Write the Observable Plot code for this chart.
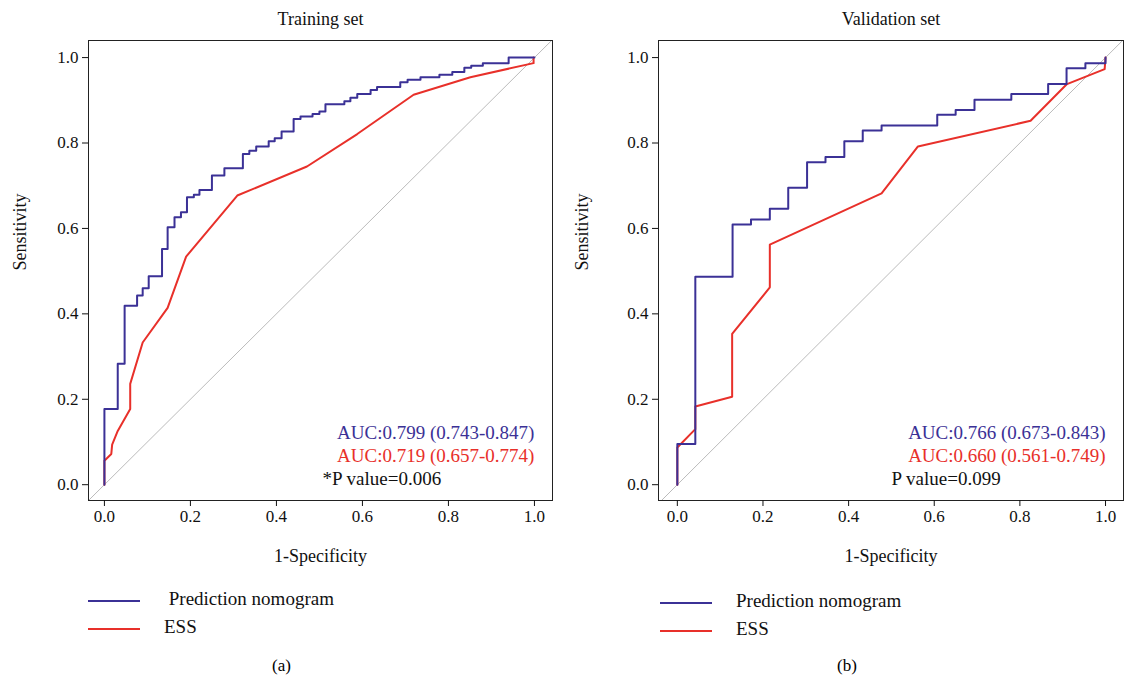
<!DOCTYPE html>
<html><head><meta charset="utf-8">
<script src="https://cdn.jsdelivr.net/npm/d3@7"></script>
<script src="https://cdn.jsdelivr.net/npm/@observablehq/plot@0.6"></script>
<style>
body{margin:0;background:#fff;font-family:"Liberation Serif","DejaVu Serif",serif;}
#wrap{display:flex;width:1124px;}
.panel{position:relative;width:562px;height:684px;}
.leg{position:absolute;font-size:19px;color:#111;}
.leg span.l{display:inline-block;width:52px;height:0;border-top:2px solid;vertical-align:middle;margin-right:24px;}
.cap{position:absolute;top:656px;font-size:17px;}
</style></head><body>
<div id="wrap"><div class="panel" id="pa"></div><div class="panel" id="pb"></div></div>
<script>
const blue="#3b3196", red="#e8302a";
const trainNomX=[0,0,0.031,0.047,0.076,0.089,0.103,0.134,0.147,0.163,0.178,0.192,0.208,0.221,0.250,0.279,0.322,0.337,0.353,0.382,0.396,0.412,0.440,0.456,0.484,0.500,0.514,0.558,0.572,0.588,0.619,0.634,0.688,0.705,0.735,0.779,0.809,0.837,0.853,0.880,0.940,1.0];
const trainNomY=[0,0.177,0.283,0.419,0.443,0.460,0.488,0.552,0.603,0.626,0.638,0.673,0.679,0.690,0.724,0.741,0.774,0.782,0.792,0.804,0.811,0.827,0.856,0.862,0.868,0.874,0.891,0.898,0.906,0.915,0.924,0.931,0.942,0.948,0.954,0.960,0.966,0.976,0.981,0.987,1.0,1.0];
const trainEssX=[0,0,0.016,0.018,0.031,0.060,0.060,0.089,0.147,0.190,0.309,0.471,0.588,0.719,0.851,0.998,0.998];
const trainEssY=[0,0.056,0.072,0.094,0.126,0.177,0.236,0.333,0.414,0.534,0.677,0.745,0.821,0.913,0.954,0.987,1.0];
const valNomX=[0,0,0.042,0.129,0.172,0.216,0.259,0.303,0.346,0.390,0.433,0.477,0.607,0.650,0.694,0.780,0.866,0.909,0.953,0.996,1.0];
const valNomY=[0,0.095,0.487,0.609,0.621,0.646,0.695,0.755,0.767,0.804,0.829,0.841,0.866,0.877,0.901,0.915,0.938,0.975,0.987,0.987,1.0];
const valEssX=[0,0,0.042,0.042,0.128,0.128,0.216,0.216,0.477,0.562,0.825,0.910,0.998,1.0];
const valEssY=[0,0.087,0.130,0.183,0.206,0.353,0.462,0.562,0.682,0.792,0.852,0.938,0.973,1.0];
const ticks=[0,0.2,0.4,0.6,0.8,1.0];
const z=(xs,ys)=>xs.map((x,i)=>({x,y:ys[i]}));

function panel(el,cfg){
  const p=Plot.plot({
    width:562,height:575,marginLeft:cfg.ml,marginRight:cfg.mr,marginTop:40,marginBottom:75,
    style:{fontFamily:'"Liberation Serif","DejaVu Serif",serif',fontSize:"16px",color:"#111",background:"#fff"},
    x:{domain:cfg.xd,ticks,tickFormat:d3.format(".1f"),label:null},
    y:{domain:[-0.037,1.04],ticks,tickFormat:d3.format(".1f"),label:null},
    marks:[
      Plot.line([{x:-0.1,y:-0.1},{x:1.1,y:1.1}],{x:"x",y:"y",stroke:"#bbb",strokeWidth:1,clip:true}),
      Plot.line(z(cfg.ex,cfg.ey),{x:"x",y:"y",stroke:red,strokeWidth:2}),
      Plot.line(z(cfg.nx,cfg.ny),{x:"x",y:"y",stroke:blue,strokeWidth:2,curve:"step-after"}),
      Plot.frame({stroke:"#222",strokeWidth:1}),
      Plot.axisX({ticks,tickFormat:d3.format(".1f"),tickSize:6,tickPadding:3,label:null}),
      Plot.axisY({ticks,tickFormat:d3.format(".1f"),tickSize:6,tickPadding:4,label:null}),
      Plot.text(["1-Specificity"],{frameAnchor:"bottom",dy:61,fontSize:18}),
      Plot.text(["Sensitivity"],{frameAnchor:"left",dx:-cfg.ml+20,rotate:-90,fontSize:18}),
      Plot.text([cfg.title],{frameAnchor:"top",dy:-28,fontSize:18}),
      Plot.text([cfg.a1],{x:1.0,y:0.122,textAnchor:"end",fill:blue,fontSize:19}),
      Plot.text([cfg.a2],{x:1.0,y:0.068,textAnchor:"end",fill:red,fontSize:19}),
      Plot.text([cfg.pv],{x:cfg.pvx,y:0.014,textAnchor:"start",fill:"#111",fontSize:19})
    ]
  });
  d3.select(p).selectAll('g[aria-label$="tick label"]').attr("font-size",null).style("font-size","17px");
  d3.select(p).selectAll('g[aria-label$="tick label"] text').style("font-size","17px");
  el.appendChild(p);
  el.insertAdjacentHTML("beforeend",
   `<div class="leg" style="left:${cfg.lx}px;top:${cfg.ly}px"><span class="l" style="border-color:${blue}"></span>${cfg.n1}</div>
    <div class="leg" style="left:${cfg.lx}px;top:${cfg.ly+28}px"><span class="l" style="border-color:${red}"></span>ESS</div>
    <div class="cap" style="left:${cfg.cx}px">${cfg.cap}</div>`);
}
panel(document.getElementById("pa"),{ml:88,mr:10,xd:[-0.037,1.042],nx:trainNomX,ny:trainNomY,ex:trainEssX,ey:trainEssY,
  title:"Training set",a1:"AUC:0.799 (0.743-0.847)",a2:"AUC:0.719 (0.657-0.774)",pv:"*P value=0.006",pvx:0.507,
  n1:"&nbsp;Prediction nomogram",lx:88,ly:588,cx:272,cap:"(a)"});
panel(document.getElementById("pb"),{ml:96,mr:1,xd:[-0.044,1.042],nx:valNomX,ny:valNomY,ex:valEssX,ey:valEssY,
  title:"Validation set",a1:"AUC:0.766 (0.673-0.843)",a2:"AUC:0.660 (0.561-0.749)",pv:"P value=0.099",pvx:0.5,
  n1:"Prediction nomogram",lx:98,ly:590,cx:275,cap:"(b)"});
</script></body></html>
